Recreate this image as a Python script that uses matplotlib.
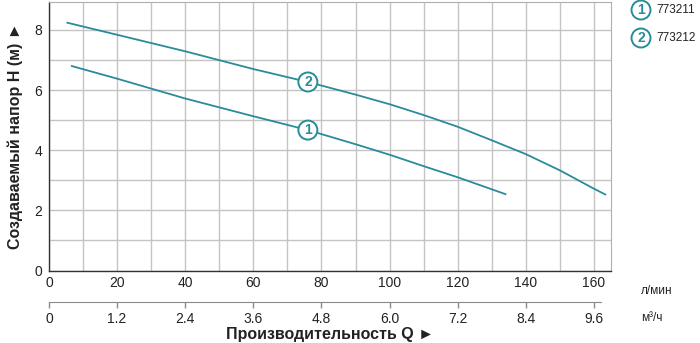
import numpy as np
import matplotlib
matplotlib.use('Agg')
import matplotlib.pyplot as plt

# DATA
q1 = [6.7, 20, 40, 60, 76, 90, 100, 110, 120, 134]
h1 = [6.8, 6.38, 5.72, 5.13, 4.67, 4.2, 3.85, 3.47, 3.1, 2.54]
q2 = [5.4, 20, 40, 60, 76, 90, 100, 110, 120, 130, 140, 150, 160, 163.3]
h2 = [8.24, 7.84, 7.29, 6.70, 6.27, 5.85, 5.53, 5.17, 4.78, 4.33, 3.87, 3.33, 2.72, 2.53]
models = ['773211', '773212']
label_q = 76
x_ticks = [0, 20, 40, 60, 80, 100, 120, 140, 160]
y_ticks = [0, 2, 4, 6, 8]
m3h_ticks = [0, 1.2, 2.4, 3.6, 4.8, 6.0, 7.2, 8.4, 9.6]
m3h_labels = ['0', '1.2', '2.4', '3.6', '4.8', '6.0', '7.2', '8.4', '9.6']

teal = '#2a8b9a'
txt = '#222222'
bold_fam = ['Liberation Sans', 'DejaVu Sans']
plt.rcParams['font.family'] = ['Liberation Sans Narrow', 'Liberation Sans', 'DejaVu Sans']

W, H = 700, 343
fig = plt.figure(figsize=(7, 3.43), dpi=100)

# main axes
x0, x1, y0, y1 = 49, 611, 270.5, 1.7
ax = fig.add_axes([x0 / W, 1 - y0 / H, (x1 - x0) / W, (y0 - y1) / H])
ax.set_xlim(0, 165)
ax.set_ylim(0, 8.94)
ax.set_xticks(x_ticks)
ax.set_yticks(y_ticks)
ax.set_xticks(np.arange(10, 165, 20), minor=True)
ax.set_yticks(np.arange(1, 9, 2), minor=True)
ax.grid(True, which='both', color='#c4c4c4', lw=1.0)
ax.set_axisbelow(True)
ax.tick_params(which='both', length=0)
ax.tick_params(axis='x', pad=4, labelsize=10, labelcolor=txt)
ax.tick_params(axis='y', pad=5, labelsize=10, labelcolor=txt)
for s in ['top', 'right']:
    ax.spines[s].set_color('#b0b0b0')
for s in ['left', 'bottom']:
    ax.spines[s].set_color('#333333')
    ax.spines[s].set_linewidth(1.0)

ax.plot(q1, h1, color=teal, lw=1.3, zorder=3)
ax.plot(q2, h2, color=teal, lw=1.3, zorder=3)

for qq, hh, n in [(q1, h1, '1'), (q2, h2, '2')]:
    ax.text(label_q, np.interp(label_q, qq, hh), n, color=teal, fontsize=10,
            fontweight='bold', ha='center', va='center', zorder=4, family=bold_fam,
            bbox=dict(boxstyle='circle,pad=0.18', fc='white', ec=teal, lw=1.4))

ax.set_ylabel('Создаваемый напор H (м) ►', fontsize=11.5, fontweight='bold',
              color=txt, family=bold_fam, labelpad=8)

# second (m3/h) axis
ya = 301.7
ax2 = fig.add_axes([x0 / W, 1 - ya / H, (x1 - x0) / W, 0.001])
ax2.set_xlim(0, 165 * 0.06)
ax2.set_xticks(m3h_ticks)
ax2.set_xticklabels(m3h_labels)
ax2.set_yticks([])
for s in ['top', 'right', 'left']:
    ax2.spines[s].set_visible(False)
ax2.spines['bottom'].set_color('#8a8a8a')
ax2.spines['bottom'].set_bounds(0, 9.72)
ax2.patch.set_alpha(0)
ax2.tick_params(axis='x', length=4.5, width=1.0, color='#8a8a8a', pad=3,
                labelsize=10, labelcolor=txt)

fig.text(641 / W, 1 - 291 / H, 'л/мин', fontsize=8.5, color=txt, va='center')
fig.text(641 / W, 1 - 318 / H, 'м³/ч', fontsize=8.5, color=txt, va='center')
fig.text(330 / W, 1 - 334 / H, 'Производительность Q ►', fontsize=11.5,
         fontweight='bold', color=txt, ha='center', va='center', family=bold_fam)

# legend
for i, m in enumerate(models):
    yy = 1 - (10 + 28 * i) / H
    fig.text(641 / W, yy, str(i + 1), color=teal, fontsize=10, fontweight='bold',
             ha='center', va='center', family=bold_fam,
             bbox=dict(boxstyle='circle,pad=0.18', fc='white', ec=teal, lw=1.4))
    fig.text(656 / W, yy, m, color=txt, fontsize=8.5, va='center')

fig.savefig('out.png', dpi=100)
